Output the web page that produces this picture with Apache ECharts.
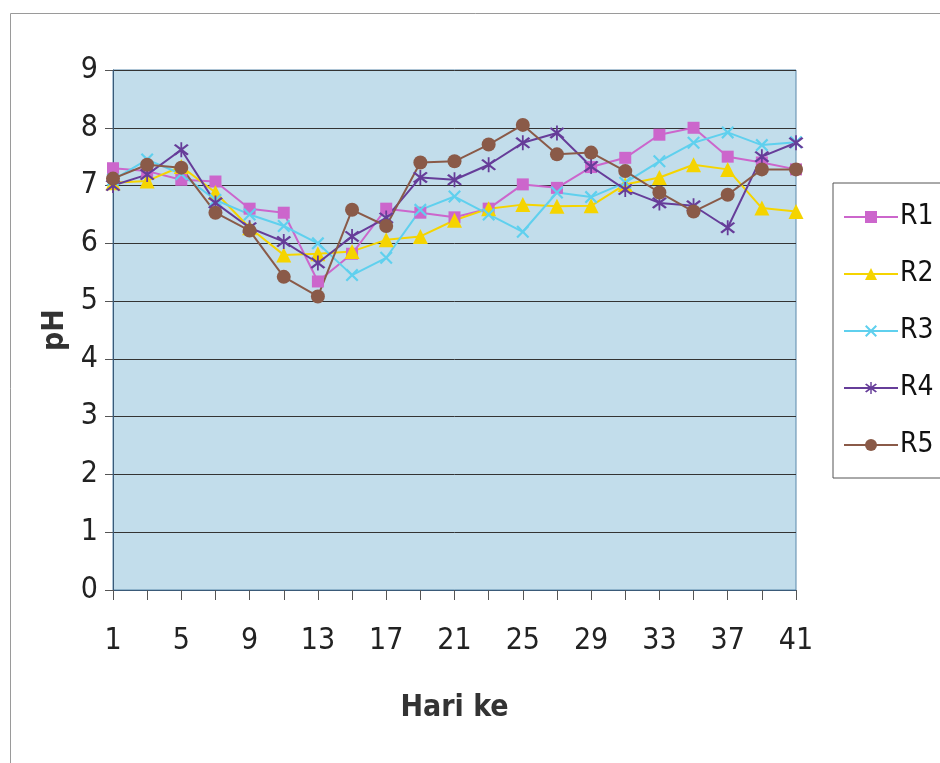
<!DOCTYPE html>
<html>
<head>
<meta charset="utf-8">
<script src="https://cdn.jsdelivr.net/npm/echarts@6/dist/echarts.min.js"></script>
<style>
html,body{margin:0;padding:0;background:#fff;}
#chart{width:940px;height:763px;}
</style>
</head>
<body>
<div id="chart"></div>
<script>
var days = ['1','3','5','7','9','11','13','15','17','19','21','23','25','27','29','31','33','35','37','39','41'];
var yTicks = [0,1,2,3,4,5,6,7,8,9];
var seriesNames = ['R1','R2','R3','R4','R5'];
var R1 = [7.30,7.25,7.10,7.07,6.60,6.53,5.34,5.82,6.60,6.53,6.45,6.60,7.02,6.96,7.32,7.48,7.88,8.00,7.50,7.40,7.28];
var R2 = [7.05,7.08,7.33,6.88,6.27,5.80,5.82,5.86,6.06,6.12,6.40,6.60,6.67,6.64,6.65,7.02,7.14,7.36,7.28,6.61,6.55];
var R3 = [7.10,7.45,7.20,6.75,6.50,6.30,6.00,5.45,5.75,6.58,6.81,6.50,6.20,6.88,6.80,7.05,7.42,7.74,7.92,7.70,7.75];
var R4 = [7.00,7.19,7.62,6.70,6.27,6.03,5.66,6.12,6.44,7.14,7.10,7.36,7.74,7.91,7.33,6.93,6.70,6.65,6.27,7.50,7.74];
var R5 = [7.12,7.36,7.31,6.53,6.22,5.42,5.08,6.58,6.30,7.40,7.42,7.71,8.05,7.54,7.57,7.25,6.88,6.55,6.84,7.28,7.28];

var FONT = '"Liberation Sans Narrow","DejaVu Sans Condensed","Liberation Sans",sans-serif';
var crossPath = 'path://M0,1.2L1.2,0L10,8.8L8.8,10Z M8.8,0L10,1.2L1.2,10L0,8.8Z';
var starPath = 'path://M0,1.2L1.2,0L10,8.8L8.8,10Z M8.8,0L10,1.2L1.2,10L0,8.8Z M4.4,-1.5L5.6,-1.5L5.6,11.5L4.4,11.5Z';

var styles = [
  {color:'#cc66cc', symbol:'rect', size:12},
  {color:'#f5d400', symbol:'triangle', size:15},
  {color:'#5fd0ee', symbol:crossPath, size:13},
  {color:'#663d99', symbol:starPath, size:15},
  {color:'#8a5a48', symbol:'circle', size:14}
];
var values = [R1,R2,R3,R4,R5];

var chart = echarts.init(document.getElementById('chart'), null, {renderer:'canvas'});
chart.setOption({
  animation:false,
  backgroundColor:'#ffffff',
  textStyle:{fontFamily:FONT},
  graphic:[{
    type:'rect', left:8, top:11, shape:{width:960, height:800},
    style:{fill:null, stroke:'#9a9a9a', lineWidth:1}, silent:true
  }],
  grid:{left:113, right:144, top:70, bottom:173, show:true, backgroundColor:'#c2ddeb', borderColor:'#5a88aa', borderWidth:1},
  legend:{
    orient:'vertical', left:833, top:183,
    padding:[19,14,18,10],
    itemWidth:54, itemHeight:15, itemGap:27,
    borderColor:'#555', borderWidth:1,
    textStyle:{fontSize:28, lineHeight:30, color:'#111', fontFamily:FONT, padding:[0,0,0,-3]},
    data:seriesNames
  },
  xAxis:{
    type:'category', data:days, boundaryGap:false,
    name:'Hari ke', nameLocation:'middle', nameGap:103,
    nameTextStyle:{fontSize:30, fontWeight:'bold', color:'#333', fontFamily:FONT},
    axisLine:{lineStyle:{color:'#3a5a78', width:1}},
    axisTick:{show:true, interval:0, length:10, lineStyle:{color:'#555'}},
    axisLabel:{interval:1, fontSize:30, color:'#222', margin:36, fontFamily:FONT},
    splitLine:{show:false}
  },
  yAxis:{
    type:'value', min:yTicks[0], max:yTicks[yTicks.length-1], interval:1,
    name:'pH', nameLocation:'middle', nameGap:40,
    nameTextStyle:{fontSize:30, fontWeight:'bold', color:'#333', fontFamily:FONT},
    axisLine:{show:true, lineStyle:{color:'#3a5a78', width:1}},
    axisTick:{show:true, length:8, lineStyle:{color:'#555'}},
    axisLabel:{fontSize:30, color:'#222', margin:15, fontFamily:FONT},
    splitLine:{show:true, lineStyle:{color:'#333', width:1}}
  },
  series: seriesNames.map(function(n,i){
    return {
      name:n, type:'line', data:values[i],
      symbol:styles[i].symbol, symbolSize:styles[i].size,
      showAllSymbol:true,
      lineStyle:{color:styles[i].color, width:2},
      itemStyle:{color:styles[i].color, borderWidth:0},
      emphasis:{disabled:true}
    };
  })
});
</script>
</body>
</html>
